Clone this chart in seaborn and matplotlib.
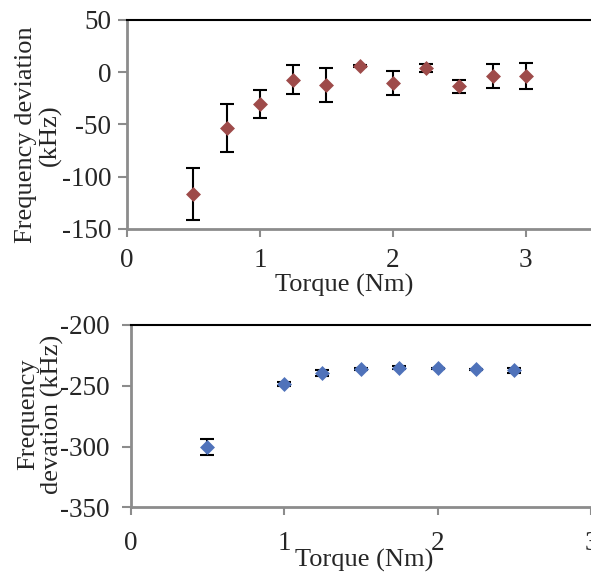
import numpy as np
import pandas as pd
import matplotlib
matplotlib.use('Agg')
import matplotlib.pyplot as plt
import seaborn as sns

sns.set_style('white')
plt.rcParams['font.family'] = ['Liberation Serif', 'DejaVu Serif']
plt.rcParams['axes.unicode_minus'] = False

# ---- data ----
torque_top = [0.5, 0.75, 1.0, 1.25, 1.5, 1.75, 2.0, 2.25, 2.5, 2.75, 3.0]
dev_top = [-116.5, -53, -30.5, -7, -12, 6, -10, 4, -13.5, -3.5, -3.5]
err_top = [24.7, 23, 13.5, 13.7, 16, 0.5, 11.5, 4.2, 6, 11.5, 12.5]

torque_bot = [0.5, 1.0, 1.25, 1.5, 1.75, 2.0, 2.25, 2.5]
dev_bot = [-300.5, -248.8, -239.2, -236.2, -235.1, -235.7, -236.5, -237.3]
err_bot = [6.5, 1.5, 2.5, 1.0, 1.5, 0.5, 0.5, 2.0]

top_ticks = [50, 0, -50, -100, -150]
bot_ticks = [-200, -250, -300, -350]

red = '#9E4B4A'
blue = '#4F72BA'
gray = '#8C8C8C'
fs_tick = 19.5
fs_lab = 19

df_top = pd.DataFrame({'torque': torque_top, 'dev': dev_top, 'err': err_top})
df_bot = pd.DataFrame({'torque': torque_bot, 'dev': dev_bot, 'err': err_bot})

fig = plt.figure(figsize=(5.91, 5.73), dpi=100)
ax1 = fig.add_axes([127 / 591, 1 - 229 / 573, 464 / 591, 209 / 573])
ax2 = fig.add_axes([130.7 / 591, 1 - 507.3 / 573, 460.3 / 591, 182.3 / 573])


def style_axis(ax, xlim, ylim, yticks, xticks, ypad, xpad):
    ax.set_xlim(*xlim)
    ax.set_ylim(*ylim)
    ax.set_yticks(yticks)
    ax.set_xticks(xticks)
    ax.set_xticklabels([str(t) for t in xticks])
    for s in ['left', 'bottom']:
        ax.spines[s].set_color(gray)
        ax.spines[s].set_linewidth(2)
    ax.spines['top'].set_color('black')
    ax.spines['top'].set_linewidth(1.5)
    ax.spines['right'].set_visible(False)
    ax.tick_params(axis='y', direction='out', length=6.5, width=1.5, color=gray,
                   labelsize=fs_tick, pad=ypad, left=True)
    ax.tick_params(axis='x', direction='out', length=6, width=1.5, color=gray,
                   labelsize=fs_tick, pad=xpad, bottom=True)


# ---- top panel ----
ax1.errorbar(df_top['torque'], df_top['dev'], yerr=df_top['err'], fmt='none',
             ecolor='black', elinewidth=1.5, capsize=4.7, capthick=1.5, zorder=2)
sns.scatterplot(data=df_top, x='torque', y='dev', ax=ax1, marker='D', s=58,
                color=red, linewidth=0, zorder=3)
style_axis(ax1, (0, 3.49), (-150, 50), top_ticks, [0, 1, 2, 3], 5, 8)
ax1.set_xlabel('Torque (Nm)', fontsize=fs_lab, va='center')
ax1.xaxis.set_label_coords(0.468, -0.268)
ax1.set_ylabel('Frequency deviation\n(kHz)', fontsize=fs_lab, va='center',
               multialignment='center', linespacing=1.1)
ax1.yaxis.set_label_coords(-0.19, 0.45)

# ---- bottom panel ----
ax2.errorbar(df_bot['torque'], df_bot['dev'], yerr=df_bot['err'], fmt='none',
             ecolor='black', elinewidth=1.5, capsize=4.7, capthick=1.5, zorder=2)
sns.scatterplot(data=df_bot, x='torque', y='dev', ax=ax2, marker='D', s=58,
                color=blue, linewidth=0, zorder=3)
style_axis(ax2, (0, 2.99), (-350, -200), bot_ticks, [0, 1, 2, 3], 9, 11)
ax2.set_xlabel('Torque (Nm)', fontsize=fs_lab, va='center')
ax2.xaxis.set_label_coords(0.507, -0.289)
ax2.set_ylabel('Frequency\ndevation (kHz)', fontsize=fs_lab, va='center',
               multialignment='center', linespacing=1.1)
ax2.yaxis.set_label_coords(-0.195, 0.512)

fig.savefig('out.png', dpi=100)
plt.close(fig)
